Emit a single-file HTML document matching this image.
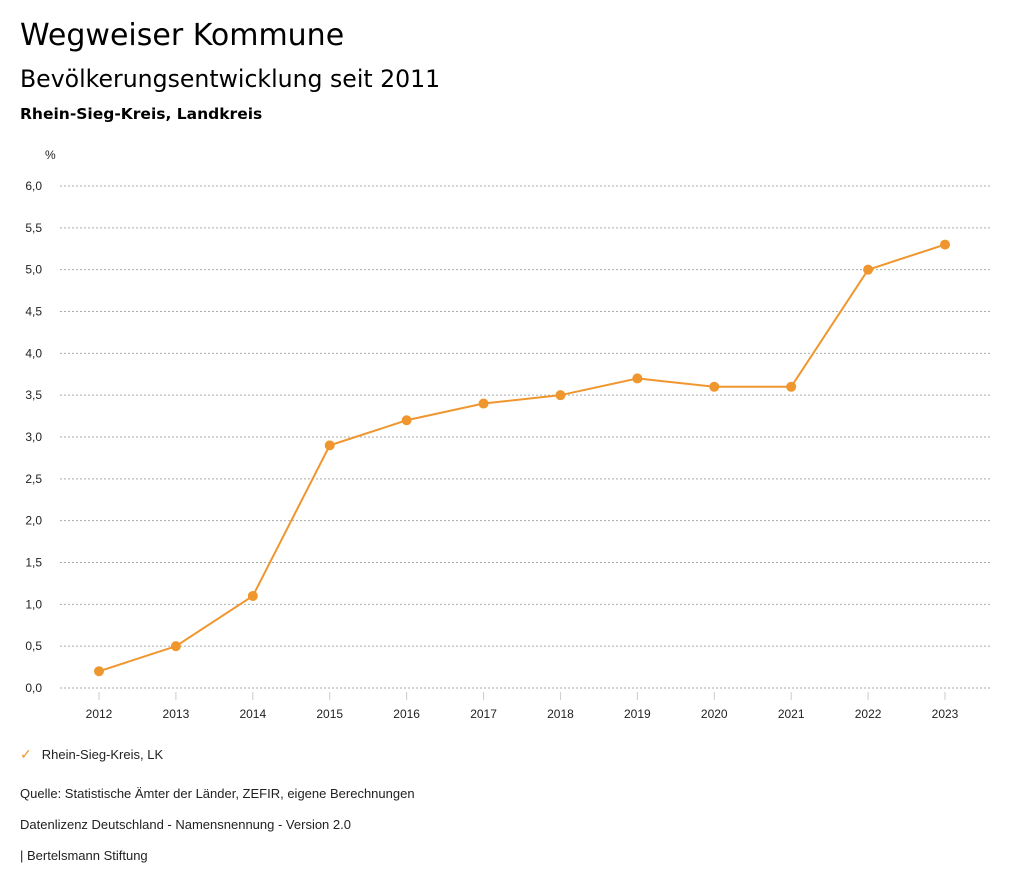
<!DOCTYPE html>
<html><head><meta charset="utf-8">
<style>
body{margin:0;width:1024px;height:888px;background:#fff;font-family:"Liberation Sans",sans-serif;color:#000;position:relative;overflow:hidden}
.t{position:absolute;left:20px;white-space:nowrap}
.h{font-family:"DejaVu Sans",sans-serif}
</style></head>
<body>
<div class="t h" style="top:18px;font-size:30px">Wegweiser Kommune</div>
<div class="t h" style="top:65px;font-size:23.6px">Bevölkerungsentwicklung seit 2011</div>
<div class="t h" style="top:105px;font-size:15.5px;font-weight:bold">Rhein-Sieg-Kreis, Landkreis</div>
<svg id="chart" width="1024" height="888" style="position:absolute;left:0;top:0"></svg>
<div class="t" style="top:746px;font-size:13px;color:#222"><span style="color:#f0962f;margin-right:10px;font-size:14px">✓</span>Rhein-Sieg-Kreis, LK</div>
<div class="t" style="top:786px;font-size:13px;color:#222">Quelle: Statistische Ämter der Länder, ZEFIR, eigene Berechnungen</div>
<div class="t" style="top:817px;font-size:13px;color:#222">Datenlizenz Deutschland - Namensnennung - Version 2.0</div>
<div class="t" style="top:848px;font-size:13px;color:#222">| Bertelsmann Stiftung</div>
<script>
const years=['2012','2013','2014','2015','2016','2017','2018','2019','2020','2021','2022','2023'];
const values=[0.2,0.5,1.1,2.9,3.2,3.4,3.5,3.7,3.6,3.6,5.0,5.3];
const yTicks=[0,0.5,1,1.5,2,2.5,3,3.5,4,4.5,5,5.5,6];
const NS='http://www.w3.org/2000/svg';
const svg=document.getElementById('chart');
const x=i=>99+i*(945-99)/(years.length-1);
const y=v=>688-v*(688-186)/6;
function mk(t,a){const e=document.createElementNS(NS,t);for(const k in a)e.setAttribute(k,a[k]);svg.appendChild(e);return e;}
yTicks.forEach(v=>{
 const l=mk('line',{x1:60,x2:990,y1:y(v),y2:y(v),stroke:'#aaa','stroke-dasharray':'2,2'});
 
 
 const t=mk('text',{x:42,y:y(v)+4,'text-anchor':'end','font-size':12,fill:'#222'});
 t.textContent=v.toFixed(1).replace('.',',');
 
 
});
const u=mk('text',{x:45,y:159,'font-size':12,fill:'#222'});u.textContent='%';


years.forEach((yr,i)=>{
 const tk=mk('line',{x1:x(i),x2:x(i),y1:692,y2:700,stroke:'#ccc'});
 
 
 const t=mk('text',{x:x(i),y:718,'text-anchor':'middle','font-size':12,fill:'#222'});
 t.textContent=yr;
 
 
});
const p=mk('polyline',{points:values.map((v,i)=>x(i)+','+y(v)).join(' '),fill:'none',stroke:'#f0962f','stroke-width':2});


values.forEach((v,i)=>{
 const c=mk('circle',{cx:x(i),cy:y(v),r:5,fill:'#f0962f'});
 
 
});
</script>
</body></html>
